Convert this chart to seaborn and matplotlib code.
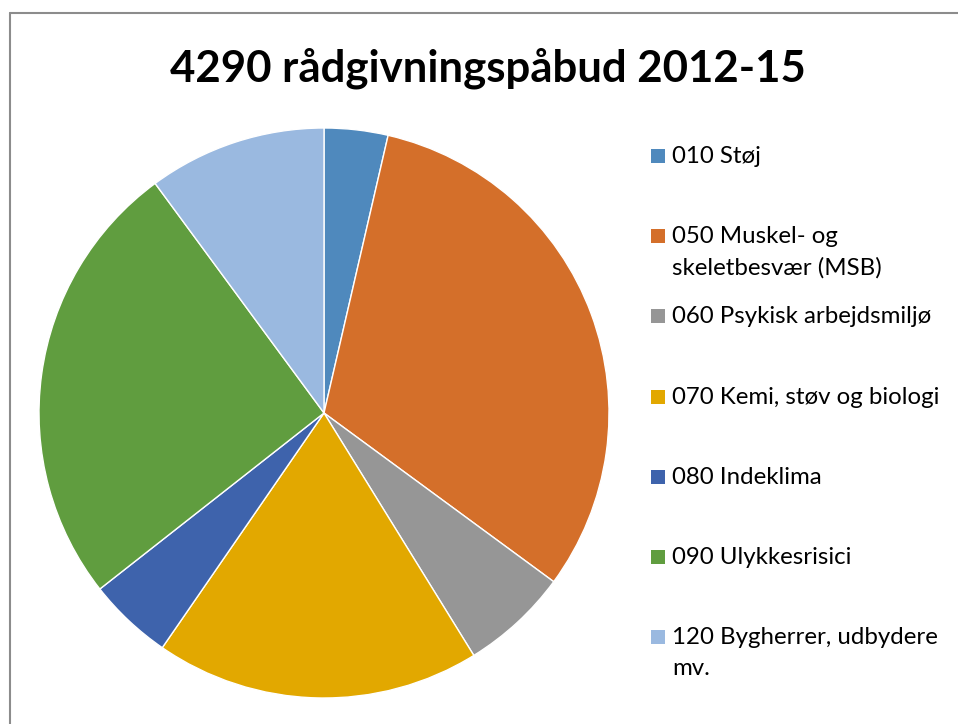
import matplotlib
matplotlib.use("Agg")
import matplotlib.pyplot as plt
from matplotlib.patches import Rectangle
from matplotlib.lines import Line2D
import seaborn as sns

title = "4290 rådgivningspåbud 2012-15"
categories = ["010 Støj", "050 Muskel- og\nskeletbesvær (MSB)", "060 Psykisk arbejdsmiljø",
              "070 Kemi, støv og biologi", "080 Indeklima", "090 Ulykkesrisici",
              "120 Bygherrer, udbydere\nmv."]
counts = [155, 1350, 262, 790, 206, 1094, 433]
colors = ["#4F89BD", "#D46F2A", "#969696", "#E2A800", "#3E63AC", "#609D3F", "#9AB9E0"]

sns.set_theme(style="white")
plt.rcParams["font.family"] = ["Lato", "DejaVu Sans"]

W, H = 958, 724
fig = plt.figure(figsize=(W / 100, H / 100), dpi=100)
fig.patch.set_facecolor("white")

# border
fig.add_artist(Line2D([10 / W, 10 / W], [0, 1 - 13 / H], transform=fig.transFigure, color="#8c8c8c", lw=1.5))
fig.add_artist(Line2D([10 / W, 1], [1 - 13 / H, 1 - 13 / H], transform=fig.transFigure, color="#8c8c8c", lw=1.5))

cx, cy, r = 324, 413, 285
ax = fig.add_axes([(cx - r) / W, (H - cy - r) / H, 2 * r / W, 2 * r / H])
ax.pie(counts, colors=colors, startangle=90, counterclock=False, radius=1,
       wedgeprops=dict(edgecolor="white", linewidth=1))
ax.set_xlim(-1, 1)
ax.set_ylim(-1, 1)
ax.set_aspect("equal")
ax.axis("off")

fig.text(488 / W, 1 - 68 / H, title, ha="center", va="center", fontsize=31.5, fontweight="bold", color="black")

y0, step, line_h = 156, 80.2, 31
for i, (lab, col) in enumerate(zip(categories, colors)):
    y = y0 + i * step
    fig.add_artist(Rectangle((651 / W, 1 - (y + 7) / H), 14 / W, 14 / H, transform=fig.transFigure,
                             facecolor=col, edgecolor="none"))
    for k, line in enumerate(lab.split("\n")):
        fig.text(672 / W, 1 - (y + 7 + k * line_h) / H, line, ha="left", va="baseline",
                 fontsize=17.3, color="black")

fig.savefig("out.png", dpi=100, facecolor="white")
